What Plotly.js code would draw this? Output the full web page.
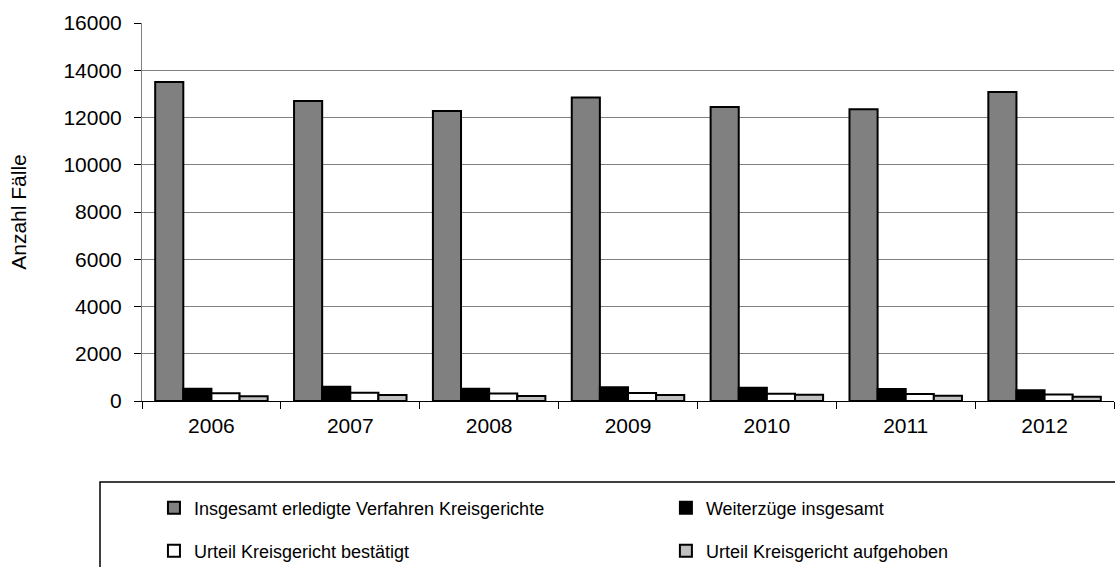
<!DOCTYPE html>
<html>
<head>
<meta charset="utf-8">
<script src="https://cdn.plot.ly/plotly-3.0.1.min.js"></script>
<style>html,body{margin:0;padding:0;background:#fff;}#chart{width:1115px;height:567px;}</style>
</head>
<body>
<div id="chart"></div>
<script>
const years = ['2006','2007','2008','2009','2010','2011','2012'];
const insgesamtErledigt = [13500, 12700, 12280, 12850, 12440, 12350, 13080];
const weiterzuege = [520, 600, 520, 580, 560, 510, 460];
const bestaetigt = [330, 350, 320, 340, 310, 300, 280];
const aufgehoben = [200, 250, 210, 250, 260, 220, 180];
const seriesNames = [
  'Insgesamt erledigte Verfahren Kreisgerichte',
  'Weiterzüge insgesamt',
  'Urteil Kreisgericht bestätigt',
  'Urteil Kreisgericht aufgehoben'
];
const yTicks = [0, 2000, 4000, 6000, 8000, 10000, 12000, 14000, 16000];

const fills = ['#808080', '#000000', '#ffffff', '#c0c0c0'];
const legendIds = ['legend', 'legend2', 'legend3', 'legend4'];
const values = [insgesamtErledigt, weiterzuege, bestaetigt, aufgehoben];

const traces = values.map((v, i) => ({
  type: 'bar',
  x: years,
  y: v,
  name: seriesNames[i],
  legend: legendIds[i],
  marker: {color: fills[i], line: {color: '#000', width: 2}},
  hoverinfo: 'x+y+name'
}));

const font = {family: 'Liberation Sans, Arial, sans-serif', size: 21, color: '#000'};
function legendAt(x, y) {
  return {
    orientation: 'h',
    x: x,
    y: y,
    xref: 'paper',
    yref: 'paper',
    xanchor: 'left',
    yanchor: 'middle',
    bgcolor: 'rgba(0,0,0,0)',
    borderwidth: 0,
    font: {family: 'Liberation Sans, Arial, sans-serif', size: 18, color: '#000'},
    itemwidth: 30
  };
}

const layout = {
  width: 1115,
  height: 567,
  margin: {l: 142, r: 1, t: 23, b: 166, autoexpand: false},
  paper_bgcolor: '#fff',
  plot_bgcolor: '#fff',
  font: font,
  barmode: 'group',
  bargap: 0.19,
  bargroupgap: 0,
  xaxis: {
    type: 'category',
    tickson: 'boundaries',
    ticks: 'outside',
    ticklen: 7,
    tickcolor: '#000',
    showline: true,
    linecolor: '#000',
    linewidth: 1,
    showgrid: false,
    tickfont: font,
    ticklabelstandoff: 6,
    automargin: false
  },
  yaxis: {
    range: [0, 16000],
    tickvals: yTicks,
    ticktext: yTicks.map(String),
    ticks: 'outside',
    ticklen: 7,
    tickcolor: '#000',
    showline: true,
    linecolor: '#808080',
    linewidth: 1,
    showgrid: true,
    gridcolor: '#808080',
    gridwidth: 1,
    zeroline: false,
    tickfont: font,
    ticklabelstandoff: 8,
    title: {text: 'Anzahl Fälle', font: font, standoff: 31},
    automargin: false
  },
  legend: legendAt(0.0123, -0.2831),
  legend2: legendAt(0.539, -0.2831),
  legend3: legendAt(0.0123, -0.3968),
  legend4: legendAt(0.539, -0.3968),
  shapes: [{
    type: 'rect', xref: 'paper', yref: 'paper',
    x0: -0.0432, x1: 1.2, y0: -0.2143, y1: -0.7,
    line: {color: '#000', width: 1.5}, fillcolor: 'rgba(0,0,0,0)'
  }],
  showlegend: true
};

Plotly.newPlot('chart', traces, layout, {displayModeBar: false, staticPlot: true});
</script>
</body>
</html>
